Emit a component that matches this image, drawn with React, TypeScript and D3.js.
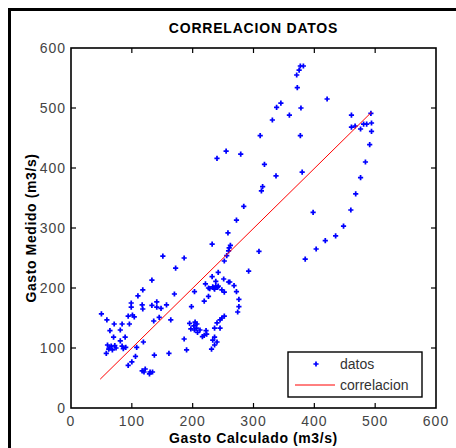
import { line, scaleLinear, symbol, symbolCross } from "d3";

const WIDTH = 456;
const HEIGHT = 448;
const MARGIN = { top: 48, right: 20, bottom: 40, left: 71 };
const PLOT_W = 365;
const PLOT_H = 360;

const xTicks = [0, 100, 200, 300, 400, 500, 600];
const yTicks = [0, 100, 200, 300, 400, 500, 600];

// gasto calculado (m3/s)
const calculado = [
  50, 59, 71, 84, 96, 64, 81, 94, 101, 104, 99, 99, 110, 118, 133, 151, 117, 118, 133, 141,
  141, 148, 157, 145, 136, 164, 70, 81, 89, 58, 60, 63, 66, 68, 72, 74, 62, 84, 86, 90,
  108, 119, 106, 100, 94, 117, 122, 120, 130, 134, 129, 137, 161, 186, 190, 170, 172, 186, 198, 203,
  195, 204, 207, 202, 206, 197, 203, 212, 208, 222, 219, 216, 223, 236, 233, 240, 236, 231, 219, 226,
  221, 226, 228, 235, 236, 238, 242, 241, 233, 248, 252, 272, 276, 276, 274, 268, 251, 259, 261, 238,
  232, 242, 252, 256, 259, 260, 262, 232, 292, 309, 252, 248, 245, 240, 245, 236, 258, 272, 284, 313,
  315, 337, 318, 240, 255, 279, 377, 382, 375, 371, 372, 421, 345, 338, 331, 359, 378, 311, 377, 461,
  461, 467, 476, 481, 486, 493, 494, 494, 491, 484, 380, 476, 468, 460, 448, 435, 418, 403, 385, 398,
];

// gasto medido (m3/s)
const medido = [
  157, 147, 140, 140, 140, 129, 130, 153, 155, 152, 175, 168, 187, 197, 213, 253, 172, 165, 171, 177,
  168, 166, 172, 151, 145, 147, 118, 112, 118, 91, 105, 100, 103, 97, 104, 100, 98, 103, 99, 101,
  101, 110, 86, 77, 71, 62, 65, 60, 60, 60, 57, 88, 91, 115, 97, 190, 233, 250, 169, 194,
  141, 143, 140, 137, 133, 132, 130, 130, 126, 129, 121, 119, 123, 118, 113, 110, 105, 98, 178, 186,
  207, 200, 199, 200, 198, 203, 203, 201, 202, 197, 193, 194, 181, 169, 160, 204, 215, 210, 210, 211,
  219, 226, 245, 254, 262, 267, 271, 273, 228, 261, 153, 150, 147, 142, 133, 133, 292, 313, 336, 362,
  369, 387, 406, 416, 428, 423, 570, 570, 563, 555, 534, 515, 508, 501, 480, 488, 500, 454, 454, 488,
  468, 470, 465, 473, 473, 491, 475, 461, 439, 410, 393, 384, 357, 330, 303, 287, 279, 265, 248, 326,
];

// correlacion line ends
const fitX = [48, 494];
const fitY = [48, 493];

const FONT = "Arial, 'Liberation Sans', Helvetica, sans-serif";

export default function App() {
  const x = scaleLinear().domain([0, 600]).range([MARGIN.left, MARGIN.left + PLOT_W]);
  const y = scaleLinear().domain([0, 600]).range([MARGIN.top + PLOT_H, MARGIN.top]);
  const x0 = MARGIN.left;
  const x1 = MARGIN.left + PLOT_W;
  const y0 = MARGIN.top + PLOT_H;
  const y1 = MARGIN.top;
  const tick = 5;

  const marker = symbol().type(symbolCross).size(15)() ?? "";
  const fitPath =
    line<number>()
      .x((d) => x(d))
      .y((_, i) => y(fitY[i]))(fitX) ?? "";

  // legend
  const lg = { x: 288, y: 352, w: 134, h: 45 };

  return (
    <svg
      width={WIDTH}
      height={HEIGHT}
      viewBox={`0 0 ${WIDTH} ${HEIGHT}`}
      style={{ position: "absolute", left: 0, top: 0, background: "#fff" }}
      fontFamily={FONT}
    >
      <rect x={0} y={0} width={WIDTH} height={HEIGHT} fill="#fff" />
      {/* figure frame, cut at right and bottom */}
      <path d={`M9.5,${HEIGHT} V9.5 H${WIDTH}`} fill="none" stroke="#000" strokeWidth={3} />

      <text x={(x0 + x1) / 2} y={33} textAnchor="middle" fontSize={14} fontWeight="bold" letterSpacing={0.8}>
        CORRELACION DATOS
      </text>

      {/* data */}
      <g fill="#0000ff">
        {calculado.map((cx, i) => (
          <path key={i} d={marker} transform={`translate(${x(cx)},${y(medido[i])})`} />
        ))}
      </g>
      <path d={fitPath} fill="none" stroke="#ff0000" strokeWidth={1} />

      {/* axes box */}
      <rect x={x0} y={y1} width={PLOT_W} height={PLOT_H} fill="none" stroke="#000" strokeWidth={1.6} />
      <g stroke="#000" strokeWidth={1.2}>
        {xTicks.slice(1, -1).map((t) => (
          <g key={t}>
            <line x1={x(t)} x2={x(t)} y1={y0} y2={y0 - tick} />
            <line x1={x(t)} x2={x(t)} y1={y1} y2={y1 + tick} />
          </g>
        ))}
        {yTicks.slice(1, -1).map((t) => (
          <g key={t}>
            <line x1={x0} x2={x0 + tick} y1={y(t)} y2={y(t)} />
            <line x1={x1} x2={x1 - tick} y1={y(t)} y2={y(t)} />
          </g>
        ))}
      </g>
      <g fontSize={14} fill="#444" letterSpacing={1}>
        {xTicks.map((t) => (
          <text key={t} x={x(t)} y={y0 + 18} textAnchor="middle">
            {t}
          </text>
        ))}
        {yTicks.map((t) => (
          <text key={t} x={x0 - 5} y={y(t) + 5} textAnchor="end">
            {t}
          </text>
        ))}
      </g>

      <text x={(x0 + x1) / 2} y={443} textAnchor="middle" fontSize={14} fontWeight="bold" letterSpacing={0.6}>
        Gasto Calculado (m3/s)
      </text>
      <text
        transform={`translate(36,${(y0 + y1) / 2}) rotate(-90)`}
        textAnchor="middle"
        fontSize={14}
        fontWeight="bold"
        letterSpacing={0.6}
      >
        Gasto Medido (m3/s)
      </text>

      {/* legend */}
      <rect x={lg.x} y={lg.y} width={lg.w} height={lg.h} fill="#fff" stroke="#000" strokeWidth={1.4} />
      <path d={marker} fill="#0000ff" transform={`translate(${lg.x + 28},${lg.y + 12})`} />
      <text x={lg.x + 52} y={lg.y + 17} fontSize={14} fill="#333">
        datos
      </text>
      <line x1={lg.x + 7} x2={lg.x + 47} y1={lg.y + 33} y2={lg.y + 33} stroke="#ff0000" strokeWidth={1} />
      <text x={lg.x + 52} y={lg.y + 38} fontSize={14} fill="#333">
        correlacion
      </text>
    </svg>
  );
}
